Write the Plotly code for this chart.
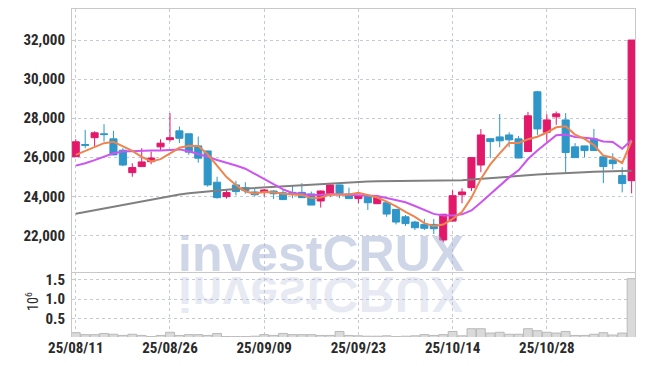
import plotly.graph_objects as go

dates = ["25/08/11", "25/08/12", "25/08/13", "25/08/14", "25/08/18", "25/08/19", "25/08/20", "25/08/21", "25/08/22", "25/08/25",
         "25/08/26", "25/08/27", "25/08/28", "25/08/29", "25/09/01", "25/09/02", "25/09/03", "25/09/04", "25/09/05", "25/09/08",
         "25/09/09", "25/09/10", "25/09/11", "25/09/12", "25/09/15", "25/09/16", "25/09/17", "25/09/18", "25/09/19", "25/09/22",
         "25/09/23", "25/09/24", "25/09/25", "25/09/26", "25/09/29", "25/09/30", "25/10/01", "25/10/02", "25/10/10", "25/10/13",
         "25/10/14", "25/10/15", "25/10/16", "25/10/17", "25/10/20", "25/10/21", "25/10/22", "25/10/23", "25/10/24", "25/10/27",
         "25/10/28", "25/10/29", "25/10/30", "25/10/31", "25/11/03", "25/11/04", "25/11/05", "25/11/06", "25/11/07", "25/11/10"]

open_ = [26030, 26650, 27000, 27200, 26940, 26360, 25210, 25520, 25770, 26530,
         26900, 27350, 27200, 26580, 26320, 24720, 23980, 24580, 24440, 24220,
         24200, 24270, 24180, 24200, 24200, 24120, 23760, 24150, 24580, 24120,
         23880, 24000, 23620, 23670, 23330, 22950, 22680, 22560, 22560, 21760,
         22730, 24080, 24440, 25600, 26950, 27040, 27140, 26940, 26290, 29350,
         27280, 28070, 27910, 26530, 26580, 26940, 26020, 25860, 25060, 24800]
high = [26920, 27400, 27330, 27690, 27350, 26460, 25690, 26460, 26290, 26920,
        28260, 27570, 27200, 27060, 26330, 25000, 24320, 24790, 24720, 24390,
        24370, 24320, 24370, 24540, 24670, 24240, 24290, 24620, 24600, 24440,
        24050, 24020, 24070, 23770, 23340, 23040, 22750, 22840, 22840, 23090,
        24310, 24410, 26000, 27440, 26960, 28210, 27280, 27090, 28320, 29400,
        28200, 28340, 28260, 26720, 26590, 27450, 26030, 26200, 25490, 32000]
low = [26000, 26460, 26550, 26800, 26100, 25540, 25000, 25500, 25640, 26320,
       26800, 26720, 26120, 25720, 24490, 23880, 23880, 24050, 24130, 24000,
       23980, 23860, 23820, 23900, 23920, 23550, 23420, 23960, 23900, 23870,
       23640, 23300, 23610, 22950, 22560, 22480, 22270, 22270, 22070, 21640,
       22720, 23640, 24270, 25230, 25950, 26510, 26510, 25940, 26280, 27140,
       26800, 27660, 25210, 25970, 26000, 26330, 24670, 25380, 24200, 24150]
close = [26790, 26610, 27250, 27160, 26120, 25600, 25470, 25760, 25960, 26720,
         27000, 26970, 26260, 25950, 24580, 23930, 24190, 24240, 24290, 24080,
         24320, 24130, 23830, 24100, 23930, 23550, 24270, 24580, 24150, 23880,
         24030, 23670, 23950, 23090, 22680, 22600, 22390, 22360, 22340, 23080,
         24030, 24220, 25980, 27140, 26800, 26840, 26890, 25960, 28120, 27450,
         27910, 28220, 26240, 25980, 26340, 26340, 25520, 25670, 24650, 32000]

ma5 = [26120, 26320, 26545, 26720, 26786, 26548, 26320, 26022, 25782, 25902,
       26182, 26482, 26582, 26580, 26152, 25538, 24982, 24578, 24246, 24146,
       24224, 24212, 24130, 24092, 24062, 23908, 23936, 24086, 24096, 24086,
       24182, 24062, 23936, 23724, 23484, 23198, 22942, 22624, 22474, 22554,
       22840, 23206, 23930, 24890, 25634, 26196, 26730, 26726, 26922, 27052,
       27266, 27532, 27588, 27160, 26938, 26624, 26084, 25970, 25704, 26836]
ma10 = [25570, 25690, 25850, 26030, 26200, 26290, 26320, 26320, 26350, 26344,
        26365, 26401, 26302, 26181, 26027, 25860, 25732, 25580, 25413, 25149,
        24881, 24597, 24354, 24169, 24104, 24066, 24074, 24108, 24094, 24074,
        24045, 23999, 24011, 23910, 23785, 23690, 23502, 23280, 23099, 23019,
        23019, 23074, 23277, 23682, 24094, 24518, 24968, 25328, 25906, 26343,
        26731, 27131, 27157, 27041, 26995, 26945, 26808, 26779, 26432, 26887]
ma60 = [23110, 23200, 23290, 23385, 23470, 23560, 23650, 23740, 23840, 23940,
        24030, 24090, 24150, 24200, 24260, 24310, 24340, 24370, 24400, 24420,
        24440, 24470, 24500, 24530, 24560, 24580, 24610, 24640, 24680, 24710,
        24740, 24760, 24775, 24780, 24780, 24780, 24780, 24780, 24785, 24790,
        24800, 24820, 24860, 24900, 24940, 24980, 25020, 25050, 25080, 25110,
        25140, 25170, 25190, 25210, 25230, 25250, 25260, 25270, 25290, 25310]

volume_m = [0.15, 0.10, 0.10, 0.13, 0.11, 0.08, 0.11, 0.08, 0.05, 0.08,
            0.16, 0.08, 0.10, 0.10, 0.08, 0.13, 0.05, 0.05, 0.05, 0.06,
            0.10, 0.08, 0.13, 0.10, 0.10, 0.10, 0.08, 0.08, 0.18, 0.08,
            0.07, 0.06, 0.06, 0.07, 0.05, 0.06, 0.07, 0.10, 0.08, 0.10,
            0.18, 0.07, 0.25, 0.25, 0.14, 0.16, 0.11, 0.11, 0.25, 0.20,
            0.16, 0.14, 0.18, 0.08, 0.08, 0.11, 0.15, 0.09, 0.14, 1.52]

price_ticks = [22000, 24000, 26000, 28000, 30000, 32000]
vol_ticks = [0.5, 1.0, 1.5]
vol_tick_text = ["0.5", "1.0", "1.5"]
date_ticks = ["25/08/11", "25/08/26", "25/09/09", "25/09/23", "25/10/14", "25/10/28"]

PINK = "#e2196a"
BLUE = "#2e96c8"
FONT_FAMILY = "Liberation Sans Narrow, Roboto Condensed, Liberation Sans, sans-serif"
TICK_FONT = dict(family=FONT_FAMILY, size=15, color="#2a2a2a", weight="bold")
GRID = "#c6cad8"
LINE = "#c8c8c8"

fig = go.Figure()
fig.add_trace(go.Candlestick(
    x=dates, open=open_, high=high, low=low, close=close,
    increasing=dict(line=dict(color=PINK, width=1), fillcolor=PINK),
    decreasing=dict(line=dict(color=BLUE, width=1), fillcolor=BLUE),
    xaxis="x", yaxis="y", hoverinfo="skip", showlegend=False))
fig.add_trace(go.Scatter(x=dates, y=ma60, mode="lines", line=dict(color="#808080", width=2),
                         xaxis="x", yaxis="y", hoverinfo="skip", showlegend=False))
fig.add_trace(go.Scatter(x=dates, y=ma10, mode="lines", line=dict(color="#cc55ee", width=2),
                         xaxis="x", yaxis="y", hoverinfo="skip", showlegend=False))
fig.add_trace(go.Scatter(x=dates, y=ma5, mode="lines", line=dict(color="#ee8550", width=2),
                         xaxis="x", yaxis="y", hoverinfo="skip", showlegend=False))
fig.add_trace(go.Bar(x=dates, y=volume_m, marker=dict(color="#dadada", line=dict(color="#b9b9b9", width=1)),
                     xaxis="x2", yaxis="y2", hoverinfo="skip", showlegend=False))

xr = [-0.4, 59.36]
fig.update_layout(
    width=645, height=366,
    margin=dict(l=72, r=10, t=9, b=29, autoexpand=False),
    paper_bgcolor="white", plot_bgcolor="white",
    hovermode=False, showlegend=False,
    boxgap=0.25, boxgroupgap=0, bargap=0.06,
    xaxis=dict(type="category", range=xr, anchor="y", tickvals=date_ticks, showticklabels=False,
               showgrid=True, gridcolor=GRID, griddash="dot", gridwidth=1,
               showline=True, mirror=True, linecolor=LINE, linewidth=1, ticks="",
               rangeslider=dict(visible=False), fixedrange=True, automargin=False),
    xaxis2=dict(type="category", range=xr, anchor="y2", matches="x", tickvals=date_ticks, ticktext=date_ticks,
                showgrid=True, gridcolor=GRID, griddash="dot", gridwidth=1,
                showline=False, ticks="", tickfont=TICK_FONT, fixedrange=True, automargin=False),
    yaxis=dict(domain=[0.197, 1], range=[20103, 33590], tickvals=price_ticks, tickformat=",d",
               showgrid=True, gridcolor=GRID, griddash="dot", gridwidth=1, zeroline=False,
               showline=True, mirror=True, linecolor=LINE, linewidth=1, ticks="", tickfont=TICK_FONT,
               ticklabelstandoff=3, fixedrange=True, automargin=False),
    yaxis2=dict(domain=[0, 0.197], range=[0.04, 1.68], tickvals=vol_ticks, ticktext=vol_tick_text,
                showgrid=True, gridcolor=GRID, griddash="dot", gridwidth=1, zeroline=False,
                showline=True, mirror=True, linecolor=LINE, linewidth=1, ticks="", tickfont=TICK_FONT,
                ticklabelstandoff=3, fixedrange=True, automargin=False),
    annotations=[
        dict(text="investCRUX", xref="paper", yref="paper", x=0.443, y=0.254, xanchor="center", yanchor="middle",
             showarrow=False, font=dict(family="Liberation Sans", size=50, color="rgba(160,174,210,0.5)", weight="bold")),
        dict(text="investCRUX", xref="paper", yref="paper", x=0.443, y=0.254, xanchor="center", yanchor="middle",
             showarrow=False, font=dict(family="Liberation Sans", size=50, color="rgba(160,174,210,0.25)", weight="bold")),
        dict(text="10<sup>6</sup>", xref="paper", yref="paper", x=-0.071, y=0.107, xanchor="center", yanchor="middle",
             textangle=-90, showarrow=False, font=dict(family=FONT_FAMILY, size=14, color="#2a2a2a")),
    ],
)

flip_js = """
document.documentElement.style.margin = '0';
document.documentElement.style.overflow = 'hidden';
document.body.style.margin = '0';
document.body.style.padding = '0';
document.body.style.overflow = 'hidden';
var gd = document.getElementById('{plot_id}');
function flipReflection(){
  var mainText = gd.querySelector('g.annotation[data-index="0"] text');
  var refl = gd.querySelector('g.annotation[data-index="1"]');
  var svg = gd.querySelector('svg.main-svg');
  if(!mainText || !refl || !svg) return;
  var r = mainText.getBoundingClientRect();
  var s = svg.getBoundingClientRect();
  var top = r.top - s.top;
  var baseline = top + r.height * 0.81;
  var Y = baseline + 2.5;
  refl.setAttribute('transform', 'matrix(1,0,0,-1,0,' + (2 * Y) + ')');
}
flipReflection();
gd.on('plotly_afterplot', flipReflection);
setTimeout(flipReflection, 50);
"""

fig.write_html("out.html", config={"displayModeBar": False}, post_script=flip_js)
